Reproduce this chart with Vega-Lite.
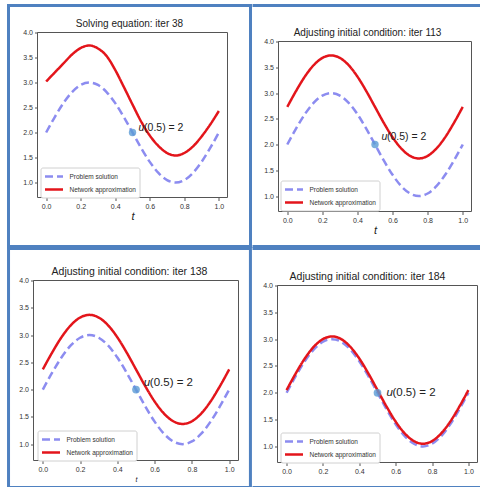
{
  "$schema": "https://vega.github.io/schema/vega-lite/v6.json",
  "padding": {"left": 6.5, "top": 3.5, "right": 0, "bottom": 0},
  "autosize": {"type": "pad"},
  "config": {
    "font": "Liberation Sans",
    "view": {"stroke": null},
    "axis": {"domain": false, "grid": false, "tickSize": 3, "tickColor": "#555555", "labelFontSize": 7, "labelColor": "#333333", "labelPadding": 2, "labelOverlap": false, "labelSeparation": 0, "titleFontStyle": "italic", "titleFontWeight": "normal", "titleFontSize": 11, "titleColor": "#222222", "titlePadding": 1},
    "axisY": {"labelOverlap": false, "labelFlush": false, "labelBound": false},
    "title": {"fontSize": 10, "fontWeight": "normal", "color": "#222222"},
    "legend": {"orient": "none", "fillColor": "white", "strokeColor": "#d0d0d0", "padding": 3, "cornerRadius": 2, "labelFontSize": 6.5, "labelColor": "#333333", "symbolType": "M-1,0L3,0", "symbolSize": 81, "symbolStrokeWidth": 2.5, "rowPadding": 2, "labelOffset": 14},
    "text": {"color": "#222222"}
  },
  "datasets": {
    "sol": [
      {"t": 0, "u": 2.0, "series": "Problem solution"},
      {"t": 0.05, "u": 2.309, "series": "Problem solution"},
      {"t": 0.1, "u": 2.588, "series": "Problem solution"},
      {"t": 0.15, "u": 2.809, "series": "Problem solution"},
      {"t": 0.2, "u": 2.951, "series": "Problem solution"},
      {"t": 0.25, "u": 3.0, "series": "Problem solution"},
      {"t": 0.3, "u": 2.951, "series": "Problem solution"},
      {"t": 0.35, "u": 2.809, "series": "Problem solution"},
      {"t": 0.4, "u": 2.588, "series": "Problem solution"},
      {"t": 0.45, "u": 2.309, "series": "Problem solution"},
      {"t": 0.5, "u": 2.0, "series": "Problem solution"},
      {"t": 0.55, "u": 1.691, "series": "Problem solution"},
      {"t": 0.6, "u": 1.412, "series": "Problem solution"},
      {"t": 0.65, "u": 1.191, "series": "Problem solution"},
      {"t": 0.7, "u": 1.049, "series": "Problem solution"},
      {"t": 0.75, "u": 1.0, "series": "Problem solution"},
      {"t": 0.8, "u": 1.049, "series": "Problem solution"},
      {"t": 0.85, "u": 1.191, "series": "Problem solution"},
      {"t": 0.9, "u": 1.412, "series": "Problem solution"},
      {"t": 0.95, "u": 1.691, "series": "Problem solution"},
      {"t": 1.0, "u": 2.0, "series": "Problem solution"}
    ],
    "net1": [
      {"t": 0, "u": 3.02, "series": "Network approximation"},
      {"t": 0.05, "u": 3.2, "series": "Network approximation"},
      {"t": 0.1, "u": 3.38, "series": "Network approximation"},
      {"t": 0.15, "u": 3.56, "series": "Network approximation"},
      {"t": 0.2, "u": 3.69, "series": "Network approximation"},
      {"t": 0.25, "u": 3.74, "series": "Network approximation"},
      {"t": 0.3, "u": 3.68, "series": "Network approximation"},
      {"t": 0.35, "u": 3.53, "series": "Network approximation"},
      {"t": 0.4, "u": 3.25, "series": "Network approximation"},
      {"t": 0.45, "u": 2.91, "series": "Network approximation"},
      {"t": 0.5, "u": 2.56, "series": "Network approximation"},
      {"t": 0.55, "u": 2.22, "series": "Network approximation"},
      {"t": 0.6, "u": 1.94, "series": "Network approximation"},
      {"t": 0.65, "u": 1.73, "series": "Network approximation"},
      {"t": 0.7, "u": 1.59, "series": "Network approximation"},
      {"t": 0.75, "u": 1.54, "series": "Network approximation"},
      {"t": 0.8, "u": 1.59, "series": "Network approximation"},
      {"t": 0.85, "u": 1.72, "series": "Network approximation"},
      {"t": 0.9, "u": 1.92, "series": "Network approximation"},
      {"t": 0.95, "u": 2.16, "series": "Network approximation"},
      {"t": 1.0, "u": 2.43, "series": "Network approximation"}
    ],
    "net2": [
      {"t": 0, "u": 2.73, "series": "Network approximation"},
      {"t": 0.05, "u": 3.039, "series": "Network approximation"},
      {"t": 0.1, "u": 3.318, "series": "Network approximation"},
      {"t": 0.15, "u": 3.539, "series": "Network approximation"},
      {"t": 0.2, "u": 3.681, "series": "Network approximation"},
      {"t": 0.25, "u": 3.73, "series": "Network approximation"},
      {"t": 0.3, "u": 3.681, "series": "Network approximation"},
      {"t": 0.35, "u": 3.539, "series": "Network approximation"},
      {"t": 0.4, "u": 3.318, "series": "Network approximation"},
      {"t": 0.45, "u": 3.039, "series": "Network approximation"},
      {"t": 0.5, "u": 2.73, "series": "Network approximation"},
      {"t": 0.55, "u": 2.421, "series": "Network approximation"},
      {"t": 0.6, "u": 2.142, "series": "Network approximation"},
      {"t": 0.65, "u": 1.921, "series": "Network approximation"},
      {"t": 0.7, "u": 1.779, "series": "Network approximation"},
      {"t": 0.75, "u": 1.73, "series": "Network approximation"},
      {"t": 0.8, "u": 1.779, "series": "Network approximation"},
      {"t": 0.85, "u": 1.921, "series": "Network approximation"},
      {"t": 0.9, "u": 2.142, "series": "Network approximation"},
      {"t": 0.95, "u": 2.421, "series": "Network approximation"},
      {"t": 1.0, "u": 2.73, "series": "Network approximation"}
    ],
    "net3": [
      {"t": 0, "u": 2.37, "series": "Network approximation"},
      {"t": 0.05, "u": 2.679, "series": "Network approximation"},
      {"t": 0.1, "u": 2.958, "series": "Network approximation"},
      {"t": 0.15, "u": 3.179, "series": "Network approximation"},
      {"t": 0.2, "u": 3.321, "series": "Network approximation"},
      {"t": 0.25, "u": 3.37, "series": "Network approximation"},
      {"t": 0.3, "u": 3.321, "series": "Network approximation"},
      {"t": 0.35, "u": 3.179, "series": "Network approximation"},
      {"t": 0.4, "u": 2.958, "series": "Network approximation"},
      {"t": 0.45, "u": 2.679, "series": "Network approximation"},
      {"t": 0.5, "u": 2.37, "series": "Network approximation"},
      {"t": 0.55, "u": 2.061, "series": "Network approximation"},
      {"t": 0.6, "u": 1.782, "series": "Network approximation"},
      {"t": 0.65, "u": 1.561, "series": "Network approximation"},
      {"t": 0.7, "u": 1.419, "series": "Network approximation"},
      {"t": 0.75, "u": 1.37, "series": "Network approximation"},
      {"t": 0.8, "u": 1.419, "series": "Network approximation"},
      {"t": 0.85, "u": 1.561, "series": "Network approximation"},
      {"t": 0.9, "u": 1.782, "series": "Network approximation"},
      {"t": 0.95, "u": 2.061, "series": "Network approximation"},
      {"t": 1.0, "u": 2.37, "series": "Network approximation"}
    ],
    "net4": [
      {"t": 0, "u": 2.05, "series": "Network approximation"},
      {"t": 0.05, "u": 2.359, "series": "Network approximation"},
      {"t": 0.1, "u": 2.638, "series": "Network approximation"},
      {"t": 0.15, "u": 2.859, "series": "Network approximation"},
      {"t": 0.2, "u": 3.001, "series": "Network approximation"},
      {"t": 0.25, "u": 3.05, "series": "Network approximation"},
      {"t": 0.3, "u": 3.001, "series": "Network approximation"},
      {"t": 0.35, "u": 2.859, "series": "Network approximation"},
      {"t": 0.4, "u": 2.638, "series": "Network approximation"},
      {"t": 0.45, "u": 2.359, "series": "Network approximation"},
      {"t": 0.5, "u": 2.05, "series": "Network approximation"},
      {"t": 0.55, "u": 1.741, "series": "Network approximation"},
      {"t": 0.6, "u": 1.462, "series": "Network approximation"},
      {"t": 0.65, "u": 1.241, "series": "Network approximation"},
      {"t": 0.7, "u": 1.099, "series": "Network approximation"},
      {"t": 0.75, "u": 1.05, "series": "Network approximation"},
      {"t": 0.8, "u": 1.099, "series": "Network approximation"},
      {"t": 0.85, "u": 1.241, "series": "Network approximation"},
      {"t": 0.9, "u": 1.462, "series": "Network approximation"},
      {"t": 0.95, "u": 1.741, "series": "Network approximation"},
      {"t": 1.0, "u": 2.05, "series": "Network approximation"}
    ]
  },
  "columns": 2,
  "spacing": -3,
  "align": "each",
  "resolve": {"scale": {"x": "independent", "y": "independent", "color": "independent", "strokeDash": "independent"}, "legend": {"color": "independent", "strokeDash": "independent"}},
  "concat": [
    {
      "width": 242, "height": 241,
      "title": {"text": "Solving equation: iter 38", "offset": -25},
      "layer": [
        {"data": {"name": "sol"}, "mark": {"type": "line", "strokeWidth": 2.5, "interpolate": "monotone"},
         "encoding": {
           "x": {"field": "t", "type": "quantitative", "scale": {"domain": [-0.05, 1.05], "range": [29, 219], "nice": false, "zero": false}, "axis": {"values": [0, 0.2, 0.4, 0.6, 0.8, 1], "format": ".1f", "title": "t", "titleY": 13, "labelOverlap": false, "offset": -49}},
           "y": {"field": "u", "type": "quantitative", "scale": {"domain": [0.7, 4], "range": [192, 27], "nice": false, "zero": false}, "axis": {"values": [1, 1.5, 2, 2.5, 3, 3.5, 4], "tickCount": 7, "format": ".1f", "title": null, "labelOverlap": false, "offset": -29}},
           "color": {"field": "series", "type": "nominal", "scale": {"domain": ["Problem solution", "Network approximation"], "range": ["#8c8cf0", "#e3151b"]}, "legend": {"title": null, "legendX": 32, "legendY": 162}},
           "strokeDash": {"field": "series", "type": "nominal", "scale": {"domain": ["Problem solution", "Network approximation"], "range": [[8, 4], [1, 0]]}, "legend": {"title": null, "legendX": 32, "legendY": 162}}
         }},
        {"data": {"name": "net1"}, "mark": {"type": "line", "strokeWidth": 2.5, "interpolate": "monotone"},
         "encoding": {
           "x": {"field": "t", "type": "quantitative"},
           "y": {"field": "u", "type": "quantitative"},
           "color": {"field": "series", "type": "nominal"},
           "strokeDash": {"field": "series", "type": "nominal"}
         }},
        {"data": {"values": [{"t": 0.5, "u": 2}]}, "mark": {"type": "circle", "size": 55, "color": "#5b9bd5", "opacity": 0.8},
         "encoding": {"x": {"field": "t", "type": "quantitative"}, "y": {"field": "u", "type": "quantitative"}}},
        {"data": {"values": [{"t": 0.535, "u": 2.1, "label": "u"}]}, "mark": {"type": "text", "align": "left", "baseline": "middle", "fontSize": 10.5, "fontStyle": "italic"},
         "encoding": {"x": {"field": "t", "type": "quantitative"}, "y": {"field": "u", "type": "quantitative"}, "text": {"field": "label"}}},
        {"data": {"values": [{"t": 0.535, "u": 2.1, "label": "(0.5) = 2"}]}, "mark": {"type": "text", "align": "left", "baseline": "middle", "fontSize": 10.5, "dx": 5.5},
         "encoding": {"x": {"field": "t", "type": "quantitative"}, "y": {"field": "u", "type": "quantitative"}, "text": {"field": "label"}}},
        {"data": {"values": [{}]}, "mark": {"type": "rect", "filled": false, "stroke": "#555555", "strokeWidth": 1},
         "encoding": {"x": {"datum": -0.05, "type": "quantitative"}, "x2": {"datum": 1.05}, "y": {"datum": 4, "type": "quantitative"}, "y2": {"datum": 0.7}}},
        {"data": {"values": [{}]}, "mark": {"type": "rect", "filled": false, "stroke": "#4f81c0", "strokeWidth": 3},
         "encoding": {"x": {"datum": -0.2179, "type": "quantitative"}, "x2": {"datum": 1.1832}, "y": {"datum": 4.54, "type": "quantitative"}, "y2": {"datum": -0.28}}}
      ]
    },
    {
      "width": 230, "height": 241,
      "title": {"text": "Adjusting initial condition: iter 113", "offset": -34},
      "layer": [
        {"data": {"name": "sol"}, "mark": {"type": "line", "strokeWidth": 2.5, "interpolate": "monotone"},
         "encoding": {
           "x": {"field": "t", "type": "quantitative", "scale": {"domain": [-0.05, 1.05], "range": [26, 219], "nice": false, "zero": false}, "axis": {"values": [0, 0.2, 0.4, 0.6, 0.8, 1], "format": ".1f", "title": "t", "titleY": 13, "labelOverlap": false, "offset": -35}},
           "y": {"field": "u", "type": "quantitative", "scale": {"domain": [0.7, 4], "range": [206, 36], "nice": false, "zero": false}, "axis": {"values": [1, 1.5, 2, 2.5, 3, 3.5, 4], "tickCount": 7, "format": ".1f", "title": null, "labelOverlap": false, "offset": -26}},
           "color": {"field": "series", "type": "nominal", "scale": {"domain": ["Problem solution", "Network approximation"], "range": ["#8c8cf0", "#e3151b"]}, "legend": {"title": null, "legendX": 28, "legendY": 175}},
           "strokeDash": {"field": "series", "type": "nominal", "scale": {"domain": ["Problem solution", "Network approximation"], "range": [[8, 4], [1, 0]]}, "legend": {"title": null, "legendX": 28, "legendY": 175}}
         }},
        {"data": {"name": "net2"}, "mark": {"type": "line", "strokeWidth": 2.5, "interpolate": "monotone"},
         "encoding": {
           "x": {"field": "t", "type": "quantitative"},
           "y": {"field": "u", "type": "quantitative"},
           "color": {"field": "series", "type": "nominal"},
           "strokeDash": {"field": "series", "type": "nominal"}
         }},
        {"data": {"values": [{"t": 0.5, "u": 2}]}, "mark": {"type": "circle", "size": 55, "color": "#5b9bd5", "opacity": 0.8},
         "encoding": {"x": {"field": "t", "type": "quantitative"}, "y": {"field": "u", "type": "quantitative"}}},
        {"data": {"values": [{"t": 0.537, "u": 2.14, "label": "u"}]}, "mark": {"type": "text", "align": "left", "baseline": "middle", "fontSize": 10.5, "fontStyle": "italic"},
         "encoding": {"x": {"field": "t", "type": "quantitative"}, "y": {"field": "u", "type": "quantitative"}, "text": {"field": "label"}}},
        {"data": {"values": [{"t": 0.537, "u": 2.14, "label": "(0.5) = 2"}]}, "mark": {"type": "text", "align": "left", "baseline": "middle", "fontSize": 10.5, "dx": 5.5},
         "encoding": {"x": {"field": "t", "type": "quantitative"}, "y": {"field": "u", "type": "quantitative"}, "text": {"field": "label"}}},
        {"data": {"values": [{}]}, "mark": {"type": "rect", "filled": false, "stroke": "#555555", "strokeWidth": 1},
         "encoding": {"x": {"datum": -0.05, "type": "quantitative"}, "x2": {"datum": 1.05}, "y": {"datum": 4, "type": "quantitative"}, "y2": {"datum": 0.7}}},
        {"data": {"values": [{}]}, "mark": {"type": "rule", "stroke": "#4f81c0", "strokeWidth": 3, "strokeCap": "butt"},
         "encoding": {"x": {"datum": -0.198, "type": "quantitative"}, "x2": {"datum": 1.104}, "y": {"datum": 4.699, "type": "quantitative"}}},
        {"data": {"values": [{}]}, "mark": {"type": "rule", "stroke": "#4f81c0", "strokeWidth": 3, "strokeCap": "butt"},
         "encoding": {"x": {"datum": -0.198, "type": "quantitative"}, "x2": {"datum": 1.104}, "y": {"datum": 0.021, "type": "quantitative"}}}
      ]
    },
    {
      "width": 242, "height": 239,
      "title": {"text": "Adjusting initial condition: iter 138", "fontSize": 10.5, "offset": -30.3},
      "layer": [
        {"data": {"name": "sol"}, "mark": {"type": "line", "strokeWidth": 2.5, "interpolate": "monotone"},
         "encoding": {
           "x": {"field": "t", "type": "quantitative", "scale": {"domain": [-0.05, 1.05], "range": [25, 230], "nice": false, "zero": false}, "axis": {"values": [0, 0.2, 0.4, 0.6, 0.8, 1], "format": ".1f", "title": "t", "titleFontSize": 7, "titleY": 15, "labelOverlap": false, "offset": -27}},
           "y": {"field": "u", "type": "quantitative", "scale": {"domain": [0.7, 4], "range": [212, 32], "nice": false, "zero": false}, "axis": {"values": [1, 1.5, 2, 2.5, 3, 3.5, 4], "tickCount": 7, "format": ".1f", "title": null, "labelOverlap": false, "labelFlush": false, "labelBound": false, "offset": -25}},
           "color": {"field": "series", "type": "nominal", "scale": {"domain": ["Problem solution", "Network approximation"], "range": ["#8c8cf0", "#e3151b"]}, "legend": {"title": null, "legendX": 29, "legendY": 182}},
           "strokeDash": {"field": "series", "type": "nominal", "scale": {"domain": ["Problem solution", "Network approximation"], "range": [[8, 4], [1, 0]]}, "legend": {"title": null, "legendX": 29, "legendY": 182}}
         }},
        {"data": {"name": "net3"}, "mark": {"type": "line", "strokeWidth": 2.5, "interpolate": "monotone"},
         "encoding": {
           "x": {"field": "t", "type": "quantitative"},
           "y": {"field": "u", "type": "quantitative"},
           "color": {"field": "series", "type": "nominal"},
           "strokeDash": {"field": "series", "type": "nominal"}
         }},
        {"data": {"values": [{"t": 0.5, "u": 2}]}, "mark": {"type": "circle", "size": 60, "color": "#5b9bd5", "opacity": 0.8},
         "encoding": {"x": {"field": "t", "type": "quantitative"}, "y": {"field": "u", "type": "quantitative"}}},
        {"data": {"values": [{"t": 0.542, "u": 2.13, "label": "u"}]}, "mark": {"type": "text", "align": "left", "baseline": "middle", "fontSize": 11.5, "fontStyle": "italic"},
         "encoding": {"x": {"field": "t", "type": "quantitative"}, "y": {"field": "u", "type": "quantitative"}, "text": {"field": "label"}}},
        {"data": {"values": [{"t": 0.542, "u": 2.13, "label": "(0.5) = 2"}]}, "mark": {"type": "text", "align": "left", "baseline": "middle", "fontSize": 11.5, "dx": 6},
         "encoding": {"x": {"field": "t", "type": "quantitative"}, "y": {"field": "u", "type": "quantitative"}, "text": {"field": "label"}}},
        {"data": {"values": [{}]}, "mark": {"type": "rect", "filled": false, "stroke": "#555555", "strokeWidth": 1},
         "encoding": {"x": {"datum": -0.05, "type": "quantitative"}, "x2": {"datum": 1.05}, "y": {"datum": 4, "type": "quantitative"}, "y2": {"datum": 0.7}}},
        {"data": {"values": [{}]}, "mark": {"type": "rect", "filled": false, "stroke": "#4f81c0", "strokeWidth": 3},
         "encoding": {"x": {"datum": -0.184, "type": "quantitative"}, "x2": {"datum": 1.114}, "y": {"datum": 4.587, "type": "quantitative"}, "y2": {"datum": 0.205}}}
      ]
    },
    {
      "width": 230, "height": 239,
      "title": {"text": "Adjusting initial condition: iter 184", "fontSize": 10.5, "offset": -35.3},
      "layer": [
        {"data": {"name": "sol"}, "mark": {"type": "line", "strokeWidth": 2.5, "interpolate": "monotone"},
         "encoding": {
           "x": {"field": "t", "type": "quantitative", "scale": {"domain": [-0.05, 1.05], "range": [25, 225], "nice": false, "zero": false}, "axis": {"values": [0, 0.2, 0.4, 0.6, 0.8, 1], "format": ".1f", "title": null, "labelOverlap": false, "offset": -25}},
           "y": {"field": "u", "type": "quantitative", "scale": {"domain": [0.7, 4], "range": [214, 37], "nice": false, "zero": false}, "axis": {"values": [1, 1.5, 2, 2.5, 3, 3.5, 4], "tickCount": 7, "format": ".1f", "title": null, "labelOverlap": false, "labelFlush": false, "labelBound": false, "offset": -25}},
           "color": {"field": "series", "type": "nominal", "scale": {"domain": ["Problem solution", "Network approximation"], "range": ["#8c8cf0", "#e3151b"]}, "legend": {"title": null, "legendX": 28, "legendY": 184}},
           "strokeDash": {"field": "series", "type": "nominal", "scale": {"domain": ["Problem solution", "Network approximation"], "range": [[8, 4], [1, 0]]}, "legend": {"title": null, "legendX": 28, "legendY": 184}}
         }},
        {"data": {"name": "net4"}, "mark": {"type": "line", "strokeWidth": 2.5, "interpolate": "monotone"},
         "encoding": {
           "x": {"field": "t", "type": "quantitative"},
           "y": {"field": "u", "type": "quantitative"},
           "color": {"field": "series", "type": "nominal"},
           "strokeDash": {"field": "series", "type": "nominal"}
         }},
        {"data": {"values": [{"t": 0.5, "u": 2}]}, "mark": {"type": "circle", "size": 60, "color": "#5b9bd5", "opacity": 0.8},
         "encoding": {"x": {"field": "t", "type": "quantitative"}, "y": {"field": "u", "type": "quantitative"}}},
        {"data": {"values": [{"t": 0.549, "u": 1.99, "label": "u"}]}, "mark": {"type": "text", "align": "left", "baseline": "middle", "fontSize": 11.5, "fontStyle": "italic"},
         "encoding": {"x": {"field": "t", "type": "quantitative"}, "y": {"field": "u", "type": "quantitative"}, "text": {"field": "label"}}},
        {"data": {"values": [{"t": 0.549, "u": 1.99, "label": "(0.5) = 2"}]}, "mark": {"type": "text", "align": "left", "baseline": "middle", "fontSize": 11.5, "dx": 6},
         "encoding": {"x": {"field": "t", "type": "quantitative"}, "y": {"field": "u", "type": "quantitative"}, "text": {"field": "label"}}},
        {"data": {"values": [{}]}, "mark": {"type": "rect", "filled": false, "stroke": "#555555", "strokeWidth": 1},
         "encoding": {"x": {"datum": -0.05, "type": "quantitative"}, "x2": {"datum": 1.05}, "y": {"datum": 4, "type": "quantitative"}, "y2": {"datum": 0.7}}},
        {"data": {"values": [{}]}, "mark": {"type": "rule", "stroke": "#4f81c0", "strokeWidth": 3, "strokeCap": "butt"},
         "encoding": {"x": {"datum": -0.1875, "type": "quantitative"}, "x2": {"datum": 1.069}, "y": {"datum": 4.69, "type": "quantitative"}}},
        {"data": {"values": [{}]}, "mark": {"type": "rule", "stroke": "#4f81c0", "strokeWidth": 3, "strokeCap": "butt"},
         "encoding": {"x": {"datum": -0.1875, "type": "quantitative"}, "x2": {"datum": 1.069}, "y": {"datum": 0.234, "type": "quantitative"}}}
      ]
    }
  ]
}
